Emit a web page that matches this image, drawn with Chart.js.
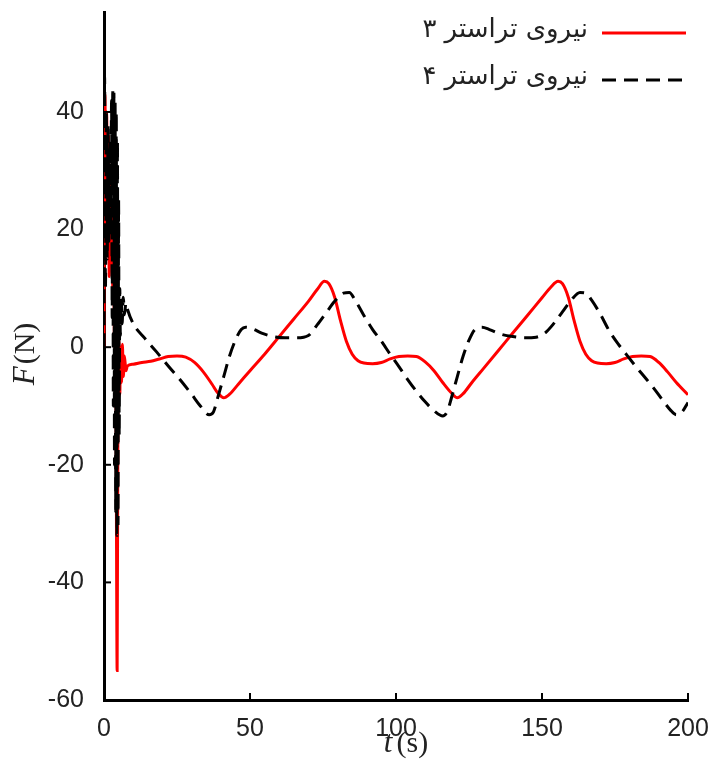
<!DOCTYPE html>
<html>
<head>
<meta charset="utf-8">
<script src="https://cdn.jsdelivr.net/npm/chart.js@4.4.1/dist/chart.umd.min.js"></script>
<style>
  html, body { margin: 0; padding: 0; background: #fff; }
  #wrap { width: 712px; height: 763px; position: relative; }
</style>
</head>
<body>
<div id="wrap"><canvas id="thrustChart"></canvas></div>
<script>
// --- data ---
const seriesLabels = ['نیروی تراستر ۳', 'نیروی تراستر ۴'];

const timeRed = [0, 0.3, 0.6, 0.9, 1.2, 1.5, 1.8, 2.1, 2.4, 2.7, 3.0, 3.3, 3.6, 3.9, 4.2, 4.5, 4.8, 5.1, 5.4, 5.7, 6.0, 6.3, 6.6, 7.0, 7.5, 8,
  10, 13, 16, 19, 22, 25, 28, 31, 34, 37, 39, 41, 43, 46, 50, 55, 60, 65, 70, 73, 75.5, 77, 79, 81, 83, 85, 87, 89, 92, 95, 98, 101, 104, 107,
  110, 113, 116, 119, 121, 123, 126, 130, 135, 140, 145, 150, 153, 155.5, 157, 159, 161, 163, 165, 167, 169, 172, 175, 178, 181, 184, 187, 190, 193, 196, 200];
const forceRed = [0, 43, 30, 40, 20, 36, 12, 30, 15, 25, 10, 18, 0, 15, -20, -55, -5, 1, -8, 0, -6, 0.5, -5, -1.5, -4, -3.2,
  -2.9, -2.6, -2.4, -2.0, -1.6, -1.5, -1.7, -2.6, -4.2, -6.3, -7.8, -8.6, -8.0, -6.3, -4.0, -1.2, 1.8, 4.8, 7.8, 9.8, 11.2, 10.8, 8.5, 4.5, 1.0, -1.2, -2.3, -2.7, -2.8, -2.6, -2.0, -1.6, -1.5, -1.6,
  -2.5, -4.0, -6.0, -7.8, -8.6, -7.9, -6.0, -3.6, -0.6, 2.4, 5.4, 8.4, 10.2, 11.2, 10.8, 8.5, 4.5, 1.0, -1.2, -2.3, -2.7, -2.8, -2.6, -2.0, -1.6, -1.5, -1.6, -2.6, -4.2, -6.0, -8.1];

const timeBlack = [0, 0.2, 0.5, 0.8, 1.1, 1.4, 1.7, 2.0, 2.3, 2.6, 2.8, 3.0, 3.2, 3.4, 3.6, 3.8, 4.0, 4.2, 4.4, 4.6, 4.8, 5.0, 5.2, 5.4, 5.6, 5.9, 6.2, 6.6, 7.0, 7.5, 8,
  10, 14, 18, 22, 26, 30, 33, 36, 37.5, 39, 41, 43, 45, 47, 48.5, 51, 54, 58, 62, 66, 70, 73, 76, 79, 82, 84, 86, 89, 92, 95, 98, 101, 104, 107,
  110, 113, 116, 117.5, 119, 121, 123, 125, 127, 129.5, 132, 136, 140, 144, 148, 151, 154, 157, 160, 163, 165, 167, 170, 173, 176, 179, 182, 185, 188, 191, 194, 196, 198, 200];
const forceBlack = [0, 46, 10, 40, 15, 38, 18, 35, 20, 42, 5, 44, -10, 43, -20, 42, -28, 40, -32, 35, -30, 25, -15, 10, 2, 8, 4, 8.5, 5.5, 7.5, 6.5,
  4.0, 1.5, -0.8, -3.2, -5.5, -8.0, -10.0, -11.5, -11.0, -8.5, -5.0, -1.5, 1.2, 3.0, 3.4, 3.1, 2.4, 1.8, 1.6, 1.6, 2.0, 3.8, 5.8, 7.8, 9.2, 9.3, 8.0, 5.4, 3.0, 1.0, -1.2, -3.3, -5.5, -7.5,
  -9.3, -10.8, -11.7, -11.0, -8.6, -5.0, -1.5, 1.2, 3.0, 3.4, 3.0, 2.2, 1.8, 1.6, 1.7, 2.4, 4.0, 6.0, 8.0, 9.3, 9.2, 8.0, 5.6, 2.8, 0.6, -1.3, -3.2, -5.0, -6.8, -8.8, -10.7, -11.5, -11.0, -9.4];

const xTicks = [0, 50, 100, 150, 200];
const yTicks = [-60, -40, -20, 0, 20, 40];

const toPoints = (xs, ys) => xs.map((x, i) => ({ x: x, y: ys[i] }));

// inward tick marks, axis titles and the in-plot legend
const decorations = {
  id: 'decorations',
  afterDraw(chart) {
    const ctx = chart.ctx;
    const xs = chart.scales.x, ys = chart.scales.y;
    const area = chart.chartArea;
    ctx.save();
    ctx.strokeStyle = '#000';
    ctx.lineWidth = 2;
    xTicks.forEach(v => {
      const px = xs.getPixelForValue(v);
      ctx.beginPath(); ctx.moveTo(px, area.bottom); ctx.lineTo(px, area.bottom - 7); ctx.stroke();
    });
    yTicks.forEach(v => {
      const py = ys.getPixelForValue(v);
      ctx.beginPath(); ctx.moveTo(area.left, py); ctx.lineTo(area.left + 7, py); ctx.stroke();
    });

    // axis titles: italic symbol + upright unit
    ctx.fillStyle = '#222';
    ctx.textBaseline = 'middle';
    ctx.textAlign = 'left';
    const italic = 'italic 31px "Liberation Serif", serif';
    const upright = '30px "Liberation Serif", serif';

    ctx.font = italic; const tW = ctx.measureText('t').width;
    ctx.font = upright; const sW = ctx.measureText('(s)').width;
    let x0 = 406 - (tW + sW + 4) / 2;
    ctx.font = italic; ctx.fillText('t', x0, 744);
    ctx.font = upright; ctx.fillText('(s)', x0 + tW + 4, 744);

    ctx.save();
    ctx.translate(26, 354);
    ctx.rotate(-Math.PI / 2);
    ctx.font = italic; const fW = ctx.measureText('F').width;
    ctx.font = upright; const nW = ctx.measureText('(N)').width;
    x0 = -(fW + nW + 2) / 2;
    ctx.font = italic; ctx.fillText('F', x0, 0);
    ctx.font = upright; ctx.fillText('(N)', x0 + fW + 2, 0);
    ctx.restore();

    // legend (line sample to the right of RTL label)
    const rows = [33, 80];
    chart.data.datasets.forEach((ds, i) => {
      const y = rows[i];
      ctx.strokeStyle = ds.borderColor;
      ctx.lineWidth = 3;
      ctx.setLineDash(ds.borderDash || []);
      ctx.beginPath(); ctx.moveTo(602, y); ctx.lineTo(686, y); ctx.stroke();
      ctx.setLineDash([]);
      ctx.fillStyle = '#222';
      ctx.font = '26px "DejaVu Sans", sans-serif';
      ctx.direction = 'rtl';
      ctx.textAlign = 'right';
      ctx.fillText(ds.label, 588, y - 3);
      ctx.direction = 'ltr';
    });
    ctx.restore();
  }
};

new Chart(document.getElementById('thrustChart'), {
  type: 'line',
  data: {
    datasets: [
      {
        label: seriesLabels[0],
        data: toPoints(timeRed, forceRed),
        borderColor: '#ff0000',
        borderWidth: 3,
        pointRadius: 0,
        cubicInterpolationMode: 'monotone',
        order: 1
      },
      {
        label: seriesLabels[1],
        data: toPoints(timeBlack, forceBlack),
        borderColor: '#000000',
        borderWidth: 3,
        borderDash: [14, 8],
        pointRadius: 0,
        cubicInterpolationMode: 'monotone',
        order: 0
      }
    ]
  },
  options: {
    responsive: true,
    maintainAspectRatio: false,
    animation: false,
    layout: { padding: { left: 0, right: 24, top: 12, bottom: 0 } },
    plugins: {
      legend: { display: false },
      tooltip: { enabled: false }
    },
    scales: {
      x: {
        type: 'linear',
        min: 0,
        max: 200,
        afterBuildTicks: s => { s.ticks = xTicks.map(v => ({ value: v })); },
        afterFit: s => { s.height = 63; s.paddingLeft = 0; s.paddingRight = 0; },
        grid: { display: false },
        border: { display: true, color: '#000', width: 3 },
        ticks: { color: '#222', padding: 6, maxRotation: 0, font: { family: '"Liberation Sans", Arial, sans-serif', size: 25 } }
      },
      y: {
        min: -60,
        max: 57,
        afterBuildTicks: s => { s.ticks = yTicks.map(v => ({ value: v })); },
        afterFit: s => { s.width = 104; s.paddingTop = 0; s.paddingBottom = 0; },
        grid: { display: false },
        border: { display: true, color: '#000', width: 3 },
        ticks: { color: '#222', padding: 12, font: { family: '"Liberation Sans", Arial, sans-serif', size: 25 } }
      }
    }
  },
  plugins: [decorations]
});
</script>
</body>
</html>
